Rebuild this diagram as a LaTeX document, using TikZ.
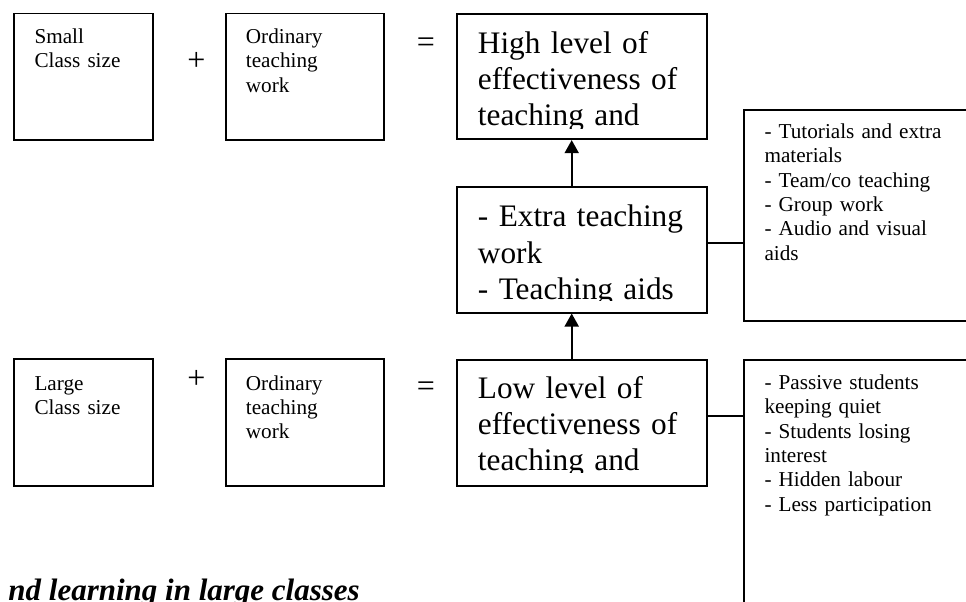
\documentclass[tikz,border=0pt]{standalone}
\usepackage{fontspec}
\setmainfont{Liberation Serif}
\usetikzlibrary{arrows.meta}
\begin{document}
\begin{tikzpicture}[x=1pt,y=-1pt,
  box/.style={draw, line width=1.8pt, inner sep=0pt, anchor=north west},
  smalltxt/.style={font=\fontsize{21.2}{24.4}\selectfont, align=left, text width=260pt, inner sep=0pt, anchor=base west},
  bigtxt/.style={font=\fontsize{31.3}{36.3}\selectfont, align=left, text width=300pt, inner sep=0pt, anchor=base west},
  sym/.style={font=\fontsize{32}{36}\selectfont, inner sep=0pt, anchor=base},
  arr/.style={line width=1.8pt, -{Triangle[length=13pt,width=14pt]}},
  conn/.style={line width=1.8pt},
  captxt/.style={font=\fontsize{31}{36}\selectfont\bfseries\itshape, inner sep=0pt, anchor=base east}]
\useasboundingbox (0,0) rectangle (966,602);
\clip (0,0) rectangle (966,602);
\fill[white] (0,0) rectangle (966,602);

% top row
\node[box, minimum width=138.4pt, minimum height=126.6pt] (small) at (13.3,12.7) {};
\node[smalltxt] (smalltext) at (34.3,43.3) {Small\\Class size};
\node[sym] (plus1) at (196.5,70.5) {+};
\node[box, minimum width=157.8pt, minimum height=126.6pt] (ord1) at (225,12.7) {};
\node[smalltxt] (ord1text) at (245.7,43.3) {Ordinary\\teaching\\work};
\node[sym] (eq1) at (426,52.5) {=};
\node[box, minimum width=250pt, minimum height=125pt] (high) at (455.7,13.3) {};
\begin{scope}
  \clip (455.7,13.3) rectangle (705.7,128);
  \node[bigtxt] (hightext) at (477.7,53.3) {High level of\\effectiveness of\\teaching and};
\end{scope}

% middle
\node[box, minimum width=250pt, minimum height=125.7pt] (extra) at (455.7,186) {};
\begin{scope}
  \clip (455.7,186) rectangle (705.7,300.5);
  \node[bigtxt] (extratext) at (477.7,226.7) {- Extra teaching\\work\\- Teaching aids};
\end{scope}
\node[box, minimum width=250pt, minimum height=211pt] (rb1) at (743.3,109) {};
\node[smalltxt] (rb1text) at (764.3,138.3) {- Tutorials and extra\\materials\\- Team/co teaching\\- Group work\\- Audio and visual\\aids};

% bottom row
\node[box, minimum width=138.4pt, minimum height=126.6pt] (large) at (13.3,358.3) {};
\node[smalltxt] (largetext) at (34.3,390) {Large\\Class size};
\node[sym] (plus2) at (196.5,388.5) {+};
\node[box, minimum width=157.8pt, minimum height=126.6pt] (ord2) at (225,358.3) {};
\node[smalltxt] (ord2text) at (245.7,390) {Ordinary\\teaching\\work};
\node[sym] (eq2) at (426,396.7) {=};
\node[box, minimum width=250pt, minimum height=126pt] (low) at (455.7,359) {};
\begin{scope}
  \clip (455.7,359) rectangle (705.7,472.7);
  \node[bigtxt] (lowtext) at (477.7,398.3) {Low level of\\effectiveness of\\teaching and};
\end{scope}
\node[box, minimum width=250pt, minimum height=270pt] (rb2) at (743.3,359) {};
\node[smalltxt] (rb2text) at (764.3,389.3) {- Passive students\\keeping quiet\\- Students losing\\interest\\- Hidden labour\\- Less participation};

% connectors
\coordinate (ax) at (571.7,0);
\draw[arr] (ax |- extra.north) -- (ax |- high.south);
\draw[arr] (ax |- low.north) -- (ax |- extra.south);
\coordinate (c1) at (0,243);
\coordinate (c2) at (0,416);
\draw[conn] (extra.east |- c1) -- (rb1.west |- c1);
\draw[conn] (low.east |- c2) -- (rb2.west |- c2);

% caption fragment
\node[captxt] (caption) at (360,600.5) {nd learning in large classes};
\end{tikzpicture}
\end{document}
